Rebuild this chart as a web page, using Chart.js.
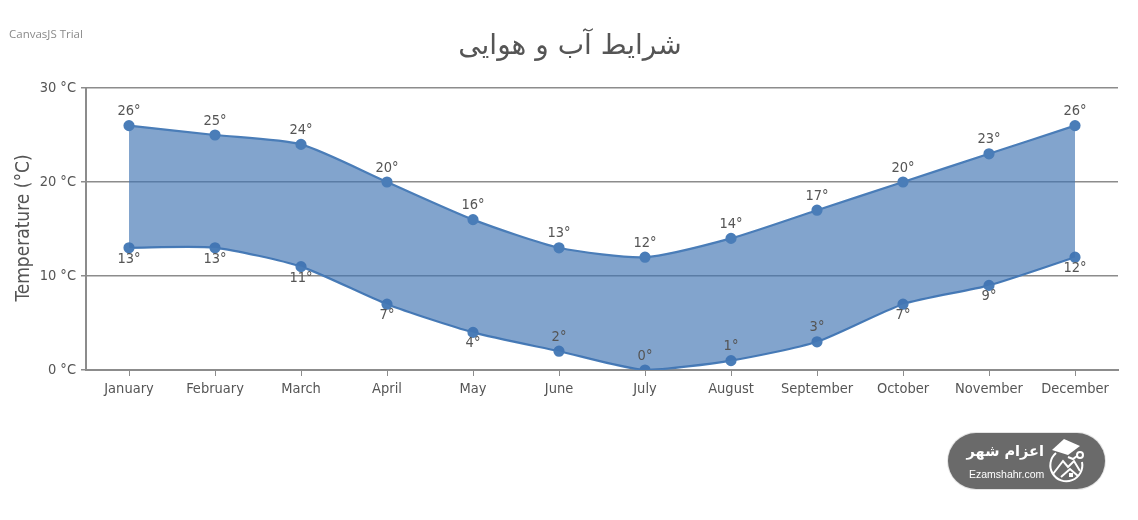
<!DOCTYPE html>
<html lang="fa">
<head>
<meta charset="utf-8">
<title>شرایط آب و هوایی</title>
<script src="https://cdn.jsdelivr.net/npm/chart.js@4"></script>
<style>
    html, body { margin: 0; padding: 0; background: #fff; }
    #wrap { position: relative; width: 1138px; height: 520px; overflow: hidden; }
    #weatherChart { position: absolute; left: 0; top: 0; }
    .trial { position: absolute; left: 9px; top: 26px; font: 11.5px "Open Sans", sans-serif; color: #8a8a8a; }
    .badge {
        position: absolute; left: 948px; top: 433px; width: 157px; height: 56px;
        border-radius: 28px; background: #6a6a6a; color: #fff; box-shadow: 0 0 0 1px #e4e4e4;
    }
    .badge .fa { position: absolute; left: 21px; top: 10px; width: 75px; text-align: center; font: bold 14.5px "DejaVu Sans", sans-serif; white-space: nowrap; }
    .badge .en { position: absolute; left: 21px; top: 35px; font: 10.5px "Liberation Sans", sans-serif; }
    .badge svg { position: absolute; left: 99px; top: 5px; }
</style>
</head>
<body>
<div id="wrap">
    <canvas id="weatherChart" width="1138" height="520"></canvas>
    <div class="trial">CanvasJS Trial</div>
    <div class="badge">
        <div class="fa" dir="rtl">اعزام شهر</div>
        <div class="en">Ezamshahr.com</div>
        <svg width="42" height="46" viewBox="0 0 42 46" fill="none" stroke="#fff" stroke-width="2">
            <path d="M5 12 L17 1 L33 8 L21 17 Z" fill="#fff" stroke="none"/>
            <path d="M9 15 A16 16 0 1 0 35 24"/>
            <path d="M6 36 L16 23 L21 29 L27 23 L33 33"/>
            <path d="M14 39 L23 31 L31 38"/>
            <path d="M21 19 L26 21 L30 18"/>
            <circle cx="33" cy="17" r="3"/>
            <rect x="22" y="35" width="4" height="4" fill="#fff" stroke="none"/>
        </svg>
    </div>
</div>
<script>
const months = ['January', 'February', 'March', 'April', 'May', 'June', 'July',
    'August', 'September', 'October', 'November', 'December'];
const highTemps = [26, 25, 24, 20, 16, 13, 12, 14, 17, 20, 23, 26];
const lowTemps = [13, 13, 11, 7, 4, 2, 0, 1, 3, 7, 9, 12];
const yTicks = [0, 10, 20, 30];

const chartTitle = 'شرایط آب و هوایی';
const yAxisTitle = 'Temperature (°C)';

const textColor = '#555';
const lineColor = '#4a7db8';
const gridColor = '#8c8c8c';
const fontFamily = '"DejaVu Sans Condensed", "DejaVu Sans", sans-serif';

// point labels: highs above, lows below unless they would hit the x axis
const pointLabels = {
    id: 'pointLabels',
    afterDatasetsDraw(chart) {
        const ctx = chart.ctx;
        ctx.save();
        ctx.font = '14.5px ' + fontFamily;
        ctx.fillStyle = textColor;
        ctx.textAlign = 'center';
        chart.data.datasets.forEach((ds, i) => {
            chart.getDatasetMeta(i).data.forEach((pt, j) => {
                const val = ds.data[j];
                const above = i === 0 || val <= 3;
                ctx.textBaseline = above ? 'bottom' : 'top';
                ctx.fillText(val + '°', pt.x, above ? pt.y - 7 : pt.y + 4);
            });
        });
        ctx.restore();
    }
};

// the title and the y axis name sit at fixed spots outside the plot area
const outerText = {
    id: 'outerText',
    afterDraw(chart) {
        const ctx = chart.ctx;
        ctx.save();
        ctx.fillStyle = textColor;
        ctx.textAlign = 'center';
        ctx.textBaseline = 'middle';
        ctx.font = '28px "DejaVu Sans", sans-serif';
        ctx.fillText(chartTitle, 570, 47);
        ctx.translate(24, 228);
        ctx.rotate(-Math.PI / 2);
        ctx.font = '19px ' + fontFamily;
        ctx.fillText(yAxisTitle, 0, 0);
        ctx.restore();
    }
};

const commonLine = {
    borderColor: lineColor,
    borderWidth: 2.2,
    pointBackgroundColor: lineColor,
    pointBorderColor: lineColor,
    pointRadius: 4.5,
    pointHoverRadius: 4.5,
    tension: 0.22
};

new Chart(document.getElementById('weatherChart'), {
    type: 'line',
    data: {
        labels: months,
        datasets: [
            { label: 'High', data: highTemps, fill: '+1', backgroundColor: 'rgba(63,115,178,0.65)', ...commonLine },
            { label: 'Low', data: lowTemps, fill: false, ...commonLine }
        ]
    },
    options: {
        responsive: false,
        animation: false,
        events: [],
        layout: { padding: { left: 0, right: 20, top: 88, bottom: 108 } },
        plugins: { legend: { display: false }, title: { display: false }, tooltip: { enabled: false } },
        scales: {
            x: {
                offset: true,
                border: { color: gridColor, width: 2 },
                grid: { drawOnChartArea: false, color: gridColor, tickLength: 6, offset: false },
                ticks: { color: textColor, font: { size: 14.5, family: fontFamily }, maxRotation: 0, autoSkip: false, padding: 5 },
                afterFit(scale) { scale.height = 42; }
            },
            y: {
                min: 0,
                max: 30,
                afterBuildTicks(scale) { scale.ticks = yTicks.map(v => ({ value: v })); },
                border: { color: gridColor, width: 2 },
                grid: { color: gridColor, lineWidth: 1.5, tickLength: 5 },
                ticks: { color: textColor, font: { size: 14.5, family: fontFamily }, padding: 5, callback: v => v + ' °C' },
                afterFit(scale) { scale.width = 86; }
            }
        }
    },
    plugins: [pointLabels, outerText]
});
</script>
</body>
</html>
